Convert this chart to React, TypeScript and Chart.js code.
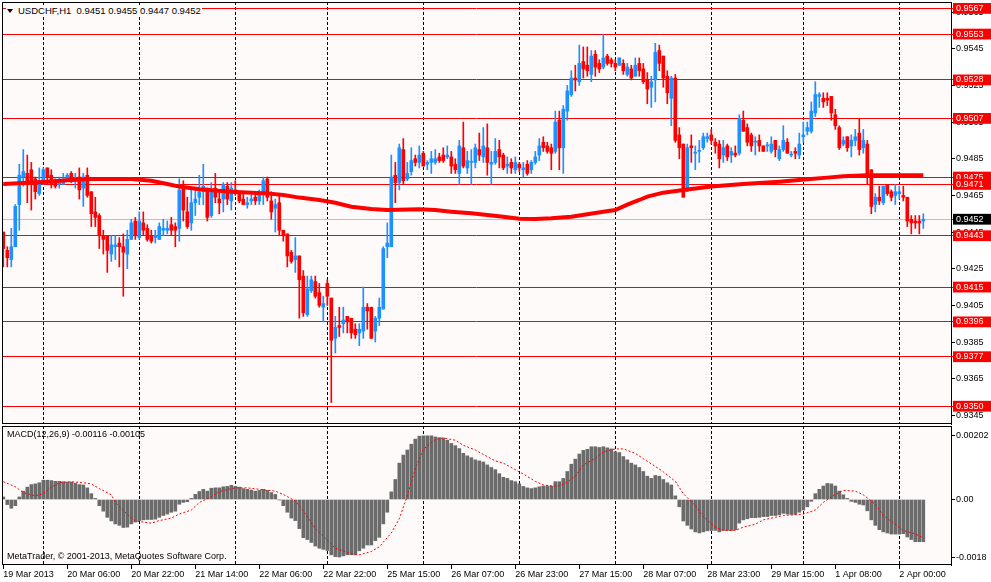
import { useEffect, useRef } from "react";
import { Chart, registerables } from "chart.js";

Chart.register(...registerables);

// USDCHF H1, 19 Mar 2013 14:00 .. 2 Apr 2013 06:00 (one entry per bar)
const opens = [
  0.9445, 0.9435, 0.943, 0.9437, 0.946, 0.9475, 0.9477, 0.9479, 0.9474, 0.9466,
  0.9472, 0.948, 0.9476, 0.9473, 0.9471, 0.9471, 0.9473, 0.9477, 0.9473, 0.9475,
  0.9469, 0.9476, 0.9467, 0.9456, 0.9454, 0.9443, 0.9443, 0.9433, 0.9437, 0.9439,
  0.9437, 0.9433, 0.9441, 0.9451, 0.9442, 0.945, 0.9447, 0.9443, 0.9442, 0.9441,
  0.9446, 0.9446, 0.9449, 0.9448, 0.9447, 0.947, 0.9456, 0.945, 0.9461, 0.9464,
  0.9467, 0.9469, 0.9454, 0.9469, 0.9463, 0.9463, 0.947, 0.9462, 0.9468, 0.9466,
  0.9463, 0.946, 0.9462, 0.9464, 0.9462, 0.9466, 0.9474, 0.9462, 0.9458, 0.9461,
  0.9446, 0.9444, 0.9434, 0.943, 0.9432, 0.9421, 0.94, 0.9413, 0.9418, 0.9412,
  0.9404, 0.9417, 0.9409, 0.9387, 0.9394, 0.9395, 0.9399, 0.9398, 0.9392, 0.939,
  0.9391, 0.9404, 0.9404, 0.9391, 0.9398, 0.9403, 0.9437, 0.9437, 0.9476, 0.9472,
  0.949, 0.9474, 0.9478, 0.9485, 0.9483, 0.9488, 0.9482, 0.9483, 0.9483, 0.9486,
  0.9487, 0.9486, 0.9486, 0.9482, 0.9477, 0.9491, 0.948, 0.9483, 0.9483, 0.949,
  0.9486, 0.9491, 0.9482, 0.9483, 0.949, 0.9487, 0.9481, 0.9483, 0.9479, 0.9482,
  0.9479, 0.9482, 0.9479, 0.9483, 0.9487, 0.9494, 0.9492, 0.9491, 0.9489, 0.9506,
  0.9491, 0.9511, 0.952, 0.9529, 0.9527, 0.9538, 0.9536, 0.9531, 0.9542, 0.9537,
  0.9535, 0.9541, 0.9539, 0.9537, 0.9536, 0.9537, 0.9531, 0.9534, 0.953, 0.9537,
  0.9534, 0.9528, 0.9524, 0.9528, 0.9544, 0.9541, 0.953, 0.9518, 0.9529, 0.9498,
  0.9493, 0.9468, 0.9492, 0.9488, 0.9489, 0.9491, 0.9496, 0.9498, 0.9494, 0.9493,
  0.9487, 0.9492, 0.9487, 0.9488, 0.9488, 0.9506, 0.9502, 0.9498, 0.9494, 0.9495,
  0.9492, 0.9492, 0.9489, 0.9495, 0.9485, 0.949, 0.9494, 0.9487, 0.9489, 0.9487,
  0.9497, 0.95, 0.95, 0.951, 0.9519, 0.9518, 0.9518, 0.9519, 0.9509, 0.9502,
  0.9493, 0.9497, 0.9492, 0.9495, 0.9499, 0.9491, 0.9493, 0.9479, 0.946, 0.9464,
  0.9461, 0.9471, 0.9467, 0.9465, 0.9466, 0.9465, 0.9464, 0.9452, 0.9451, 0.9451,
  0.9451,
];

const highs = [
  0.9445, 0.9437, 0.9447, 0.946, 0.9482, 0.949, 0.9487, 0.9483, 0.9475, 0.948,
  0.948, 0.948, 0.9479, 0.9474, 0.9475, 0.9477, 0.9477, 0.9478, 0.9477, 0.948,
  0.9477, 0.948, 0.9467, 0.9464, 0.9455, 0.9446, 0.9443, 0.9443, 0.9443, 0.9442,
  0.9444, 0.9446, 0.9452, 0.9453, 0.9456, 0.9456, 0.9449, 0.9446, 0.9446, 0.945,
  0.9452, 0.9451, 0.9453, 0.945, 0.9474, 0.9473, 0.9464, 0.9468, 0.9469, 0.9476,
  0.9482, 0.9469, 0.9472, 0.9477, 0.9467, 0.9472, 0.9472, 0.9472, 0.9473, 0.9467,
  0.9466, 0.9464, 0.9466, 0.9466, 0.9468, 0.9475, 0.9475, 0.9467, 0.9463, 0.9466,
  0.9446, 0.9444, 0.9435, 0.9442, 0.9432, 0.9424, 0.9421, 0.9421, 0.9421, 0.9417,
  0.941, 0.9419, 0.9409, 0.9399, 0.9404, 0.9404, 0.9399, 0.9398, 0.9395, 0.9395,
  0.9415, 0.9406, 0.9404, 0.9399, 0.9409, 0.9437, 0.945, 0.9487, 0.9483, 0.9493,
  0.9496, 0.9483, 0.9491, 0.9487, 0.9492, 0.9489, 0.9484, 0.9489, 0.949, 0.9488,
  0.9491, 0.9492, 0.9489, 0.9485, 0.9495, 0.9505, 0.9489, 0.949, 0.9493, 0.9499,
  0.9502, 0.9504, 0.9489, 0.9496, 0.9495, 0.9488, 0.9486, 0.9485, 0.9486, 0.9483,
  0.9483, 0.9484, 0.9484, 0.9489, 0.9496, 0.9497, 0.9494, 0.9493, 0.9511, 0.9511,
  0.9514, 0.9525, 0.9533, 0.9536, 0.9547, 0.9546, 0.9546, 0.9544, 0.9544, 0.9539,
  0.9553, 0.9542, 0.954, 0.9539, 0.954, 0.9539, 0.9537, 0.9536, 0.954, 0.954,
  0.9537, 0.9532, 0.953, 0.9548, 0.9547, 0.9541, 0.9533, 0.953, 0.9531, 0.9502,
  0.9493, 0.9493, 0.9498, 0.9492, 0.9495, 0.9499, 0.9499, 0.9501, 0.9496, 0.9495,
  0.9495, 0.9493, 0.9491, 0.9492, 0.9509, 0.9511, 0.9504, 0.9499, 0.9497, 0.9498,
  0.9492, 0.9494, 0.9497, 0.9495, 0.9492, 0.9503, 0.9496, 0.9489, 0.9491, 0.9499,
  0.9505, 0.9505, 0.9516, 0.9527, 0.9521, 0.9521, 0.9521, 0.9519, 0.9512, 0.9503,
  0.9497, 0.9497, 0.9498, 0.9501, 0.9507, 0.9501, 0.9495, 0.9479, 0.9466, 0.947,
  0.947, 0.9471, 0.9468, 0.9471, 0.947, 0.947, 0.9464, 0.9454, 0.9454, 0.9454,
  0.9455,
];

const lows = [
  0.9426, 0.9426, 0.9426, 0.9437, 0.9446, 0.947, 0.9461, 0.9457, 0.9463, 0.9465,
  0.9471, 0.9471, 0.9469, 0.9469, 0.9469, 0.9471, 0.9473, 0.9472, 0.9469, 0.9463,
  0.9459, 0.9464, 0.9448, 0.9448, 0.9436, 0.9433, 0.9423, 0.9429, 0.943, 0.9426,
  0.941, 0.9425, 0.9441, 0.9441, 0.9441, 0.9443, 0.944, 0.9439, 0.9439, 0.9441,
  0.9443, 0.9444, 0.9443, 0.9437, 0.944, 0.9451, 0.9447, 0.9446, 0.9454, 0.946,
  0.946, 0.9451, 0.9453, 0.9461, 0.9455, 0.9456, 0.946, 0.9457, 0.9465, 0.9461,
  0.946, 0.9458, 0.946, 0.946, 0.946, 0.946, 0.9462, 0.9452, 0.9445, 0.9443,
  0.944, 0.9426, 0.9428, 0.9423, 0.9398, 0.9399, 0.9399, 0.9412, 0.9409, 0.9404,
  0.9396, 0.9405, 0.9352, 0.9379, 0.9388, 0.939, 0.939, 0.9387, 0.9387, 0.9383,
  0.9387, 0.9392, 0.9387, 0.9385, 0.9394, 0.9403, 0.9431, 0.9437, 0.9461, 0.9468,
  0.9471, 0.9473, 0.9476, 0.9481, 0.948, 0.9481, 0.9479, 0.9477, 0.9482, 0.9483,
  0.9483, 0.9485, 0.9477, 0.9477, 0.9471, 0.948, 0.9477, 0.9471, 0.948, 0.9484,
  0.9483, 0.9476, 0.9471, 0.9482, 0.948, 0.9479, 0.9477, 0.9477, 0.9477, 0.9478,
  0.9475, 0.9476, 0.9477, 0.9482, 0.9484, 0.9489, 0.9488, 0.9479, 0.9488, 0.9479,
  0.9477, 0.9506, 0.9519, 0.9522, 0.9525, 0.9529, 0.953, 0.9527, 0.953, 0.9532,
  0.9534, 0.9536, 0.9535, 0.9533, 0.9536, 0.9531, 0.953, 0.9528, 0.953, 0.953,
  0.9526, 0.9515, 0.9513, 0.9516, 0.9533, 0.9524, 0.9515, 0.9503, 0.9494, 0.9485,
  0.9464, 0.9467, 0.9483, 0.9479, 0.9483, 0.949, 0.9494, 0.9493, 0.9488, 0.948,
  0.9483, 0.9484, 0.9483, 0.9486, 0.9487, 0.95, 0.9492, 0.9489, 0.9487, 0.9489,
  0.9489, 0.9489, 0.9488, 0.9486, 0.9484, 0.9489, 0.9488, 0.9486, 0.9485, 0.9485,
  0.9494, 0.9498, 0.9499, 0.9508, 0.9513, 0.9513, 0.9514, 0.9506, 0.9501, 0.949,
  0.9492, 0.9489, 0.9486, 0.9492, 0.9487, 0.9488, 0.9471, 0.9455, 0.9456, 0.946,
  0.946, 0.9465, 0.9462, 0.946, 0.9463, 0.9462, 0.9448, 0.9444, 0.9447, 0.9444,
  0.9447,
];

const closes = [
  0.9436, 0.9431, 0.9437, 0.9459, 0.9476, 0.9478, 0.9472, 0.9473, 0.9467, 0.9473,
  0.9479, 0.9475, 0.9471, 0.947, 0.9473, 0.9473, 0.9476, 0.9473, 0.9474, 0.9468,
  0.9475, 0.9465, 0.9455, 0.9453, 0.9443, 0.9441, 0.9435, 0.9438, 0.9438, 0.9437,
  0.9434, 0.9441, 0.945, 0.9443, 0.9451, 0.9446, 0.9441, 0.944, 0.9443, 0.9448,
  0.9447, 0.9447, 0.9446, 0.9446, 0.9468, 0.9457, 0.9448, 0.9461, 0.9463, 0.9467,
  0.947, 0.9453, 0.9468, 0.9464, 0.9461, 0.9471, 0.9463, 0.9469, 0.9466, 0.9462,
  0.946, 0.9461, 0.9463, 0.9462, 0.9465, 0.9473, 0.9464, 0.9456, 0.946, 0.9446,
  0.9443, 0.9432, 0.9429, 0.9432, 0.9419, 0.9401, 0.9414, 0.9419, 0.941, 0.9405,
  0.9406, 0.941, 0.9386, 0.9393, 0.9393, 0.9397, 0.9396, 0.939, 0.9389, 0.9392,
  0.9404, 0.9402, 0.9387, 0.9398, 0.9404, 0.9436, 0.9439, 0.9475, 0.9472, 0.9491,
  0.9473, 0.9477, 0.9484, 0.9483, 0.9487, 0.9481, 0.9483, 0.9485, 0.9485, 0.9484,
  0.9484, 0.9487, 0.9481, 0.9479, 0.9492, 0.9481, 0.9484, 0.9483, 0.9491, 0.9487,
  0.9492, 0.9483, 0.9483, 0.9489, 0.9486, 0.948, 0.9482, 0.948, 0.9483, 0.948,
  0.948, 0.9477, 0.9483, 0.9486, 0.9492, 0.9491, 0.9489, 0.9488, 0.9505, 0.9491,
  0.9512, 0.9522, 0.9529, 0.9528, 0.9537, 0.9534, 0.9533, 0.9541, 0.9535, 0.9534,
  0.954, 0.9537, 0.9537, 0.9535, 0.954, 0.9533, 0.9535, 0.9529, 0.9536, 0.9533,
  0.9527, 0.9523, 0.9527, 0.9543, 0.9537, 0.9529, 0.9521, 0.9529, 0.9495, 0.9491,
  0.9464, 0.9491, 0.9491, 0.9488, 0.9489, 0.9497, 0.9497, 0.9495, 0.9492, 0.9485,
  0.9491, 0.9486, 0.9489, 0.9487, 0.9507, 0.95, 0.9494, 0.9492, 0.9494, 0.9492,
  0.9489, 0.9492, 0.9493, 0.949, 0.949, 0.9495, 0.9488, 0.9487, 0.9488, 0.9493,
  0.9498, 0.9502, 0.9511, 0.952, 0.952, 0.9516, 0.9517, 0.951, 0.9503, 0.9491,
  0.9495, 0.9491, 0.9495, 0.9497, 0.949, 0.9495, 0.9476, 0.9459, 0.9464, 0.9462,
  0.947, 0.9466, 0.9464, 0.9467, 0.9467, 0.9464, 0.9451, 0.945, 0.945, 0.945,
  0.9452,
];

// thick red moving average, read at these bars
const maBars = [
  0, 10, 16, 22, 32, 37, 41, 44, 49, 57, 66, 70, 74, 79, 83, 87, 92, 96, 104, 108,
  112, 117, 121, 125, 129, 133, 137, 142, 146, 150, 153, 156, 159, 161, 165, 170,
  177, 185, 194, 201, 206, 210, 216, 230,
];
const maValues = [
  0.94712, 0.94723, 0.94732, 0.9474, 0.9474, 0.9473, 0.94712, 0.94698, 0.94683,
  0.9467, 0.94661, 0.94652, 0.94638, 0.94625, 0.9461, 0.94588, 0.94576, 0.9457,
  0.94574, 0.9457, 0.94561, 0.94552, 0.94543, 0.94534, 0.94523, 0.94521, 0.94525,
  0.94534, 0.94547, 0.94561, 0.9457, 0.946, 0.94625, 0.94643, 0.94665, 0.9468,
  0.94698, 0.94712, 0.94725, 0.94738, 0.94747, 0.94754, 0.9476, 0.9476,
];

const levels = [
  0.9567, 0.9553, 0.9528, 0.9507, 0.9475, 0.9471, 0.9443, 0.9415, 0.9396, 0.9377, 0.935,
];
const lastPrice = 0.9452;
const priceTicks = [
  0.9345, 0.9365, 0.9385, 0.9405, 0.9425, 0.9445, 0.9465, 0.9485, 0.9505, 0.9525, 0.9545, 0.9565,
];

// MACD(12,26,9) main values, one per bar
const macdHist = [
  0.00007, -0.00014, -0.00024, -0.00017, 0.00007, 0.00023, 0.00034, 0.00041, 0.00043, 0.00046,
  0.00053, 0.00053, 0.00052, 0.0005, 0.0005, 0.00049, 0.00048, 0.00048, 0.00045, 0.00041,
  0.0004, 0.00032, 0.00016, 0.00003, -0.00017, -0.00032, -0.00049, -0.00059, -0.00067, -0.00071,
  -0.00077, -0.00076, -0.00067, -0.00062, -0.00058, -0.00056, -0.00055, -0.00055, -0.00054, -0.00049,
  -0.00044, -0.0004, -0.00035, -0.00032, -0.00013, -0.00008, -0.00006, 0.00003, 0.00014, 0.00022,
  0.00028, 0.00023, 0.00031, 0.00032, 0.00032, 0.00035, 0.00036, 0.00039, 0.00036, 0.00034,
  0.0003, 0.00028, 0.00026, 0.00023, 0.00025, 0.00028, 0.00025, 0.00019, 0.00014, -0.00001,
  -0.00017, -0.00035, -0.00051, -0.00058, -0.0008, -0.00105, -0.0011, -0.00118, -0.00128, -0.00134,
  -0.00137, -0.0014, -0.00152, -0.00157, -0.00158, -0.00155, -0.00152, -0.00152, -0.00152, -0.00141,
  -0.00134, -0.00125, -0.00125, -0.00113, -0.00104, -0.00067, -0.00035, 0.00021, 0.00055, 0.001,
  0.00122, 0.00136, 0.00152, 0.00166, 0.00174, 0.00175, 0.00175, 0.00175, 0.00172, 0.0017,
  0.00169, 0.00163, 0.00154, 0.00148, 0.0014, 0.00127, 0.0012, 0.00115, 0.00109, 0.00106,
  0.00103, 0.00095, 0.00088, 0.00082, 0.00071, 0.00061, 0.00058, 0.00052, 0.00049, 0.00043,
  0.00036, 0.00032, 0.0003, 0.00032, 0.00035, 0.00037, 0.00037, 0.00037, 0.00049, 0.00049,
  0.00058, 0.00077, 0.00097, 0.00111, 0.00125, 0.00135, 0.00138, 0.00145, 0.00145, 0.00143,
  0.00145, 0.00142, 0.00139, 0.00131, 0.00129, 0.00118, 0.00109, 0.001, 0.00095, 0.00088,
  0.00077, 0.00064, 0.00058, 0.00066, 0.00064, 0.00055, 0.00046, 0.0004, 0.0001, -0.0002,
  -0.00059, -0.00071, -0.00081, -0.00089, -0.00092, -0.00089, -0.00086, -0.00085, -0.00085, -0.00089,
  -0.00085, -0.00085, -0.00085, -0.00083, -0.00065, -0.00056, -0.00053, -0.0005, -0.0005, -0.00049,
  -0.00047, -0.00047, -0.00044, -0.00044, -0.00042, -0.00038, -0.0004, -0.00041, -0.00041, -0.00035,
  -0.00029, -0.0002, -0.00005, 0.00016, 0.00028, 0.00037, 0.00044, 0.00043, 0.00037, 0.00023,
  0.00013, 0.00003, -0.00005, -0.00008, -0.00013, -0.00015, -0.00031, -0.00056, -0.00071, -0.00083,
  -0.00089, -0.00092, -0.00095, -0.00095, -0.00095, -0.00094, -0.00103, -0.0011, -0.00116, -0.00116,
  -0.00116,
];

// signal line, read at these bars
const signalBars = [
  0, 3, 5, 8, 10, 12, 14, 17, 20, 22, 24, 27, 28, 31, 33, 37, 39, 42, 44, 47, 49, 52, 54,
  58, 61, 64, 68, 70, 73, 75, 78, 81, 83, 87, 89, 92, 94, 97, 99, 101, 103, 105, 108, 110,
  113, 115, 118, 121, 123, 125, 128, 130, 133, 135, 138, 140, 143, 145, 148, 150, 153,
  155, 158, 160, 163, 165, 168, 170, 173, 175, 178, 180, 183, 185, 188, 190, 193, 195,
  198, 200, 203, 205, 208, 210, 213, 215, 218, 220, 223, 225, 228, 230,
];
const signalValues = [
  0.00049, 0.00035, 0.00019, 0.0001, 0.00016, 0.00034, 0.00046, 0.00049, 0.00046, 0.00043,
  0.0003, 0.00013, -0.00008, -0.00041, -0.00059, -0.00065, -0.00058, -0.00051, -0.0004,
  -0.00029, -0.00008, 0.00007, 0.00022, 0.00032, 0.00032, 0.00028, 0.00023, 0.00014,
  -0.00004, -0.00031, -0.0008, -0.00112, -0.00134, -0.00149, -0.00152, -0.00143, -0.0013,
  -0.00092, -0.00053, 0.0001, 0.00085, 0.00138, 0.00165, 0.00169, 0.00163, 0.00149,
  0.00136, 0.00118, 0.00106, 0.001, 0.00082, 0.0007, 0.0005, 0.0004, 0.00036, 0.00041,
  0.00064, 0.00095, 0.00113, 0.00131, 0.00139, 0.00139, 0.00127, 0.00112, 0.00091,
  0.00076, 0.0005, 0.00016, -0.00017, -0.00047, -0.00076, -0.00085, -0.00085, -0.00076,
  -0.00068, -0.00056, -0.00049, -0.00044, -0.00042, -0.0004, -0.00029, -0.00008, 0.00014,
  0.00025, 0.00023, 0.00013, -0.00013, -0.00044, -0.00068, -0.00085, -0.00095, -0.00105,
];
const macdTickLabels = ["0.00202", "0.00", "-0.0018"];

const timeLabels = [
  "19 Mar 2013", "20 Mar 06:00", "20 Mar 22:00", "21 Mar 14:00", "22 Mar 06:00",
  "22 Mar 22:00", "25 Mar 15:00", "26 Mar 07:00", "26 Mar 23:00", "27 Mar 15:00",
  "28 Mar 07:00", "28 Mar 23:00", "29 Mar 15:00", "1 Apr 08:00", "2 Apr 00:00",
];
const timeLabelBars = [0, 16, 32, 48, 64, 80, 96, 112, 128, 144, 160, 176, 192, 208, 224];
const dayBars = [10, 34, 58, 81, 105, 129, 153, 177, 200, 224];

const BULL = "#1e90ff";
const BEAR = "#ff0000";
const PLOT_BG = "#fffafa";
const FONT = '"Liberation Sans", Arial, sans-serif';
const X_MIN = -0.325;
const X_MAX = X_MIN + 949 / 4;

Chart.defaults.font.family = FONT;
Chart.defaults.font.size = 9;

const panelPlugin = {
  id: "panel",
  beforeDraw(chart: Chart) {
    const { ctx, chartArea: a } = chart;
    ctx.save();
    ctx.fillStyle = PLOT_BG;
    ctx.fillRect(a.left, a.top, a.right - a.left, a.bottom - a.top);
    ctx.restore();
  },
  afterDraw(chart: Chart) {
    const { ctx, chartArea: a } = chart;
    ctx.save();
    ctx.strokeStyle = "#000";
    ctx.lineWidth = 1;
    ctx.strokeRect(a.left + 0.5, a.top + 0.5, a.right - a.left, a.bottom - a.top - 1);
    ctx.restore();
  },
};

// stop Chart.js from reserving room for half labels at the axis ends
function noPadding(s: any) {
  s.paddingTop = 0;
  s.paddingBottom = 0;
  s.paddingLeft = 0;
  s.paddingRight = 0;
}

function dayGridAxis() {
  return {
    type: "linear" as const,
    min: X_MIN,
    max: X_MAX,
    offset: false,
    position: "bottom" as const,
    afterBuildTicks: (s: any) => {
      s.ticks = dayBars.map((v) => ({ value: v }));
    },
    afterFit: (s: any) => {
      s.height = 0;
      noPadding(s);
    },
    ticks: { display: false },
    grid: { color: "#000", lineWidth: 1, drawTicks: false, offset: false },
    border: { display: false, dash: [3, 2] },
  };
}

function PriceChart() {
  const ref = useRef<HTMLCanvasElement>(null);

  useEffect(() => {
    if (!ref.current) return;
    const bars = closes.map((_, i) => i);
    const colors = closes.map((c, i) => (c >= opens[i] ? BULL : BEAR));
    const nTicks = priceTicks.length;
    const lastIdx = nTicks + levels.length;

    const chart = new Chart(ref.current, {
      type: "bar",
      data: {
        datasets: [
          {
            type: "line",
            data: maBars.map((b, k) => ({ x: b, y: maValues[k] })),
            borderColor: "#ff0000",
            borderWidth: 4,
            pointRadius: 0,
            order: 0,
          },
          {
            data: bars.map((i) => ({ x: i, y: [opens[i], closes[i]] })),
            backgroundColor: colors,
            barThickness: 3,
            minBarLength: 1,
            grouped: false,
            order: 1,
          },
          {
            data: bars.map((i) => ({ x: i, y: [lows[i], highs[i]] })),
            backgroundColor: colors,
            barThickness: 1,
            grouped: false,
            order: 2,
          },
        ] as any,
      },
      options: {
        animation: false,
        responsive: false,
        events: [],
        layout: { padding: { left: 2, top: 2, right: 0, bottom: 1 } },
        plugins: { legend: { display: false }, tooltip: { enabled: false } },
        scales: {
          x: dayGridAxis(),
          y: {
            type: "linear",
            position: "right",
            min: 0.93403,
            max: 0.95705,
            afterBuildTicks: (s: any) => {
              s.ticks = [...priceTicks, ...levels, lastPrice].map((v) => ({ value: v }));
            },
            afterFit: (s: any) => {
              s.width = 40;
              noPadding(s);
            },
            ticks: {
              autoSkip: false,
              padding: 1,
              font: { family: FONT, size: 9 },
              color: (c: any) => (c.index < nTicks ? "#000" : "#fff"),
              callback: (v: any) => Number(v).toFixed(4),
              showLabelBackdrop: (c: any) => c.index >= nTicks,
              backdropColor: (c: any) => (c.index === lastIdx ? "#000" : "#ff0000"),
              backdropPadding: { left: 3, right: 9, top: 0, bottom: 0 },
            } as any,
            grid: {
              lineWidth: 1,
              tickLength: 4,
              color: (c: any) =>
                c.index < nTicks ? "rgba(0,0,0,0)" : c.index === lastIdx ? "#c0c0c0" : "#ff0000",
              tickColor: (c: any) => (c.index < nTicks ? "#000" : "#ff0000"),
            },
            border: { display: true, color: "#000" },
          },
        },
      },
      plugins: [panelPlugin],
    });

    return () => chart.destroy();
  }, []);

  return <canvas ref={ref} width={991} height={425} style={{ display: "block" }} />;
}

function MacdChart() {
  const ref = useRef<HTMLCanvasElement>(null);

  useEffect(() => {
    if (!ref.current) return;

    const chart = new Chart(ref.current, {
      type: "bar",
      data: {
        datasets: [
          {
            type: "line",
            data: signalBars.map((b, k) => ({ x: b, y: signalValues[k] })),
            borderColor: "#ff0000",
            borderWidth: 1,
            borderDash: [2, 2],
            pointRadius: 0,
            order: 0,
          },
          {
            data: macdHist.map((v, i) => ({ x: i, y: v })),
            backgroundColor: "#6b6b6b",
            barThickness: 3,
            order: 1,
          },
        ] as any,
      },
      options: {
        animation: false,
        responsive: false,
        events: [],
        layout: { padding: { left: 2, top: 1, right: 0, bottom: 0 } },
        plugins: { legend: { display: false }, tooltip: { enabled: false } },
        scales: {
          x: {
            type: "linear",
            min: X_MIN,
            max: X_MAX,
            offset: false,
            position: "bottom",
            afterBuildTicks: (s: any) => {
              s.ticks = timeLabelBars.map((v) => ({ value: v }));
            },
            afterFit: (s: any) => {
              s.height = 17;
              noPadding(s);
            },
            ticks: {
              autoSkip: false,
              maxRotation: 0,
              align: "start",
              padding: 0,
              color: "#000",
              font: { family: FONT, size: 9 },
              callback: (_v: any, idx: number) => timeLabels[idx],
            },
            grid: {
              drawOnChartArea: false,
              drawTicks: true,
              tickLength: 4,
              tickColor: "#000",
              offset: false,
            },
            border: { display: false },
          },
          xDays: dayGridAxis(),
          y: {
            type: "linear",
            position: "right",
            min: -0.0018,
            max: 0.00202,
            afterBuildTicks: (s: any) => {
              const span = s.max - s.min;
              s.ticks = [
                { value: s.max - span * 0.065 },
                { value: 0 },
                { value: s.min + span * 0.057 },
              ];
            },
            afterFit: (s: any) => {
              s.width = 40;
              noPadding(s);
            },
            ticks: {
              autoSkip: false,
              padding: 1,
              color: "#000",
              font: { family: FONT, size: 9 },
              callback: (_v: any, idx: number) => macdTickLabels[idx],
            },
            grid: { drawOnChartArea: false, tickLength: 4, tickColor: "#000" },
            border: { display: true, color: "#000" },
          },
        },
      },
      plugins: [panelPlugin],
    });

    return () => chart.destroy();
  }, []);

  return <canvas ref={ref} width={991} height={157} style={{ display: "block" }} />;
}

const textStyle = {
  position: "absolute" as const,
  fontFamily: FONT,
  fontSize: 9,
  lineHeight: "11px",
  color: "#000",
  whiteSpace: "pre" as const,
};

export default function App() {
  useEffect(() => {
    document.body.style.margin = "0";
  }, []);

  return (
    <div style={{ position: "relative", width: 991, height: 582, background: "#fff", overflow: "hidden" }}>
      <PriceChart />
      <MacdChart />
      <div
        style={{
          ...textStyle,
          fontSize: 9.5,
          left: 6,
          top: 5,
          background: PLOT_BG,
          paddingLeft: 1,
          paddingRight: 1,
          display: "flex",
          alignItems: "center",
        }}
      >
        <span
          style={{
            display: "inline-block",
            width: 0,
            height: 0,
            borderLeft: "3px solid transparent",
            borderRight: "3px solid transparent",
            borderTop: "4px solid #000",
            marginRight: 5,
          }}
        />
        <span>USDCHF,H1  0.9451 0.9455 0.9447 0.9452</span>
      </div>
      <div style={{ ...textStyle, left: 7, top: 429 }}>MACD(12,26,9) -0.00116 -0.00105</div>
      <div style={{ ...textStyle, left: 7, top: 551 }}>
        MetaTrader, © 2001-2013, MetaQuotes Software Corp.
      </div>
    </div>
  );
}
